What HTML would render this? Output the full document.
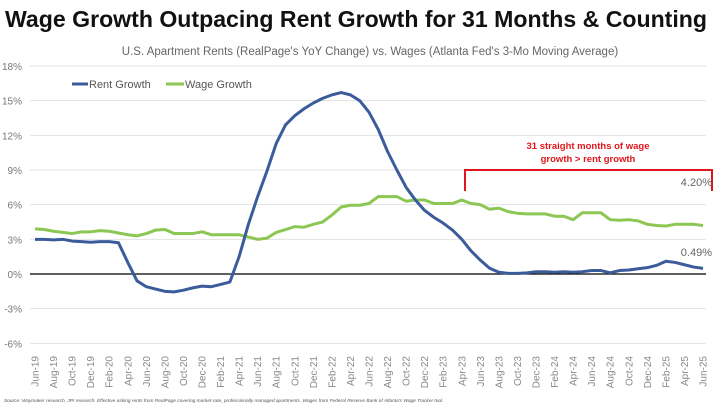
<!DOCTYPE html>
<html><head><meta charset="utf-8"><style>
body{margin:0;background:#fff;width:714px;height:406px;overflow:hidden;font-family:"Liberation Sans",sans-serif}
</style></head><body>
<svg id="chart" width="714" height="406" xmlns="http://www.w3.org/2000/svg" font-family="Liberation Sans, sans-serif">
<text x="5" y="27" font-size="23" font-weight="bold" fill="#111" textLength="702" lengthAdjust="spacingAndGlyphs">Wage Growth Outpacing Rent Growth for 31 Months &amp; Counting</text>
<text x="370" y="55" text-anchor="middle" font-size="11.5" fill="#666">U.S. Apartment Rents (RealPage's YoY Change) vs. Wages (Atlanta Fed's 3-Mo Moving Average)</text>
<g id="grid"></g><g id="xlabels"></g><g id="series"></g>
<g>
<line x1="72" y1="84" x2="88" y2="84" stroke="#3b5b9a" stroke-width="3"/>
<text x="89" y="88" font-size="11" fill="#555">Rent Growth</text>
<line x1="166" y1="84" x2="184" y2="84" stroke="#8cc653" stroke-width="3"/>
<text x="185" y="88" font-size="11" fill="#555">Wage Growth</text>
</g>
<g>
<path d="M465,191 V170 H712 V191" fill="none" stroke="#e0161b" stroke-width="2"/>
<text x="588" y="149" text-anchor="middle" font-size="9.5" font-weight="bold" fill="#e0161b">31 straight months of wage</text>
<text x="588" y="162" text-anchor="middle" font-size="9.5" font-weight="bold" fill="#e0161b">growth &gt; rent growth</text>
</g>
<text x="712" y="186" text-anchor="end" font-size="11" fill="#666">4.20%</text>
<text x="712" y="256" text-anchor="end" font-size="11" fill="#666">0.49%</text>
<text x="4" y="402" font-size="4.8" font-style="italic" fill="#555">Source: Waymaker research, JPI research. Effective asking rents from RealPage covering market-rate, professionally managed apartments. Wages from Federal Reserve Bank of Atlanta's Wage Tracker tool.</text>
</svg>
<script>
const months=["Jun-19","Aug-19","Oct-19","Dec-19","Feb-20","Apr-20","Jun-20","Aug-20","Oct-20","Dec-20","Feb-21","Apr-21","Jun-21","Aug-21","Oct-21","Dec-21","Feb-22","Apr-22","Jun-22","Aug-22","Oct-22","Dec-22","Feb-23","Apr-23","Jun-23","Aug-23","Oct-23","Dec-23","Feb-24","Apr-24","Jun-24","Aug-24","Oct-24","Dec-24","Feb-25","Apr-25","Jun-25"];
const yTicks=[18,15,12,9,6,3,0,-3,-6];
const rentGrowth=[3.0,3.0,2.95,3.0,2.85,2.8,2.75,
2.8,2.8,2.7,1.0,-0.6,-1.1,-1.3,-1.5,-1.55,-1.4,-1.2,-1.05,
-1.1,-0.9,-0.7,1.5,4.3,6.7,8.9,11.3,12.9,13.7,14.3,14.8,
15.2,15.5,15.7,15.5,15.0,14.0,12.5,10.6,9.0,7.5,6.4,5.5,
4.9,4.4,3.8,3.0,2.0,1.2,0.5,0.15,0.05,0.05,0.1,0.2,
0.2,0.15,0.2,0.15,0.2,0.3,0.3,0.1,0.3,0.35,0.45,0.55,
0.75,1.1,1.0,0.8,0.6,0.49];
const wageGrowth=[3.9,3.85,3.7,3.6,3.5,3.65,3.65,
3.75,3.7,3.55,3.4,3.3,3.5,3.8,3.85,3.5,3.5,3.5,3.65,
3.4,3.4,3.4,3.4,3.2,3.0,3.1,3.6,3.85,4.1,4.05,4.3,
4.5,5.1,5.8,5.95,5.95,6.1,6.7,6.7,6.7,6.3,6.4,6.4,
6.1,6.1,6.1,6.4,6.1,6.0,5.6,5.7,5.4,5.25,5.2,5.2,
5.2,5.0,5.0,4.7,5.3,5.3,5.3,4.7,4.65,4.7,4.6,4.3,
4.2,4.15,4.3,4.3,4.3,4.2];
const NS="http://www.w3.org/2000/svg";
const x=i=>35+i*(703-35)/72;
const y=v=>274-v*(274-66)/18;
function mk(t,a,p){const e=document.createElementNS(NS,t);for(const k in a)e.setAttribute(k,a[k]);p.appendChild(e);return e;}
const grid=document.getElementById('grid');
yTicks.forEach(v=>{
 const l=mk('line',{x1:30,x2:706,y1:y(v),y2:y(v),stroke:v===0?'#000':'#e3e3e3','stroke-width':v===0?1.2:1},grid);
 
 
 const t=mk('text',{x:22,y:y(v)+4,'text-anchor':'end','font-size':10,fill:'#777'},grid);
 t.textContent=v+'%';
 
 
});
const xl=document.getElementById('xlabels');
months.forEach((m,k)=>{
 const px=x(k*2);
 const t=mk('text',{x:0,y:0,'text-anchor':'end','font-size':10,fill:'#888',transform:`translate(${px+3.5},356) rotate(-90)`},xl);
 t.textContent=m;
 
 
});
const s=document.getElementById('series');
function line(d,c,n){
 const p=mk('polyline',{points:d.map((v,i)=>x(i)+','+y(v)).join(' '),fill:'none',stroke:c,'stroke-width':3,'stroke-linejoin':'round'},s);
 
 
}
line(wageGrowth,'#8cc653','wage-growth-line');
line(rentGrowth,'#3b5b9a','rent-growth-line');
</script>
</body></html>
